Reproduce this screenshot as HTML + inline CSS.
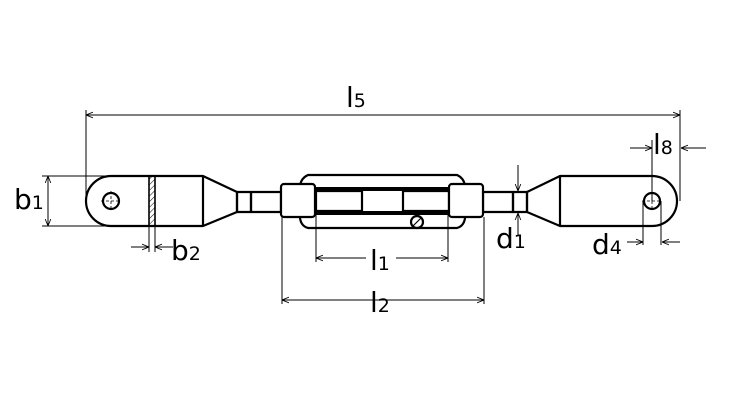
<!DOCTYPE html>
<html><head><style>body{margin:0;background:#fff}svg{display:block}text{font-family:"DejaVu Sans","Liberation Sans",sans-serif;fill:#000}</style></head>
<body>
<svg width="746" height="402" viewBox="0 0 746 402" xmlns="http://www.w3.org/2000/svg">
<defs>
<marker id="a" viewBox="0 0 10 10" refX="10" refY="5" markerWidth="7" markerHeight="7" orient="auto-start-reverse"><path d="M0,1 L10,5 L0,9" fill="none" stroke="#000" stroke-width="1.2"/></marker>
<pattern id="h" width="4" height="4" patternUnits="userSpaceOnUse" patternTransform="rotate(45)"><line x1="0" y1="0" x2="0" y2="4" stroke="#000" stroke-width="1"/></pattern>
</defs>
<g fill="none" stroke="#000" stroke-width="2.2" stroke-linejoin="round">
<!-- left eye -->
<path d="M111,176 L203,176 L237,192 L237,212 L203,226 L111,226 A25,25 0 0 1 111,176 Z" fill="#fff"/>
<rect x="149" y="176" width="6" height="50" fill="url(#h)" stroke-width="1.6"/>
<line x1="203" y1="176" x2="203" y2="226"/>
<circle cx="111" cy="201" r="8"/>
<rect x="237" y="192" width="14" height="20"/>
<rect x="251" y="192" width="30" height="20"/>
<!-- right eye -->
<path d="M652,176 L560,176 L527,192 L527,212 L560,226 L652,226 A25,25 0 0 0 652,176 Z" fill="#fff"/>
<line x1="560" y1="176" x2="560" y2="226"/>
<circle cx="652" cy="201" r="8"/>
<rect x="513" y="192" width="14" height="20"/>
<rect x="483" y="192" width="30" height="20"/>
<!-- frame -->
<path d="M308,175 L457,175 Q464,178 465,186 L465,218 Q464,226 457,228 L308,228 Q301,226 300,218 L300,186 Q301,178 308,175 Z" fill="#fff"/>
<rect x="315" y="189" width="134" height="24" fill="#fff"/>
<line x1="315" y1="189" x2="449" y2="189" stroke-width="4"/>
<line x1="315" y1="213" x2="449" y2="213" stroke-width="4"/>
<rect x="316" y="191" width="46" height="20" fill="#fff"/>
<rect x="403" y="191" width="46" height="20" fill="#fff"/>
<rect x="281" y="184" width="34" height="33" rx="3" fill="#fff"/>
<rect x="449" y="184" width="34" height="33" rx="3" fill="#fff"/>
<circle cx="417" cy="222" r="6" fill="#fff"/>
<line x1="413" y1="226" x2="421" y2="218" stroke-width="1.2"/>
</g>
<g stroke="#000" stroke-width="0.8" stroke-dasharray="3,2" fill="none">
<line x1="101" y1="201" x2="121" y2="201"/><line x1="111" y1="191" x2="111" y2="211"/>
<line x1="642" y1="201" x2="662" y2="201"/><line x1="652" y1="191" x2="652" y2="211"/>
</g>
<g stroke="#000" stroke-width="1" fill="none">
<!-- l5 -->
<line x1="86" y1="110" x2="86" y2="201"/><line x1="680" y1="110" x2="680" y2="201"/>
<line x1="86" y1="115" x2="680" y2="115" marker-start="url(#a)" marker-end="url(#a)"/>
<!-- b1 -->
<line x1="42" y1="176" x2="105" y2="176"/><line x1="42" y1="226" x2="105" y2="226"/>
<line x1="48" y1="176" x2="48" y2="226" marker-start="url(#a)" marker-end="url(#a)"/>
<!-- b2 -->
<line x1="149" y1="226" x2="149" y2="252"/><line x1="155" y1="226" x2="155" y2="252"/>
<line x1="131" y1="247" x2="149" y2="247" marker-end="url(#a)"/>
<line x1="173" y1="247" x2="155" y2="247" marker-end="url(#a)"/>
<!-- l1 -->
<line x1="316" y1="213" x2="316" y2="262"/><line x1="448" y1="213" x2="448" y2="262"/>
<line x1="316" y1="258" x2="366" y2="258" marker-start="url(#a)"/>
<line x1="396" y1="258" x2="448" y2="258" marker-end="url(#a)"/>
<!-- l2 -->
<line x1="282" y1="217" x2="282" y2="304"/><line x1="484" y1="217" x2="484" y2="304"/>
<line x1="282" y1="300" x2="484" y2="300" marker-start="url(#a)" marker-end="url(#a)"/>
<!-- d1 -->
<line x1="518" y1="165" x2="518" y2="191" marker-end="url(#a)"/>
<line x1="518" y1="235" x2="518" y2="213" marker-end="url(#a)"/>
<!-- d4 -->
<line x1="643" y1="201" x2="643" y2="245"/><line x1="661" y1="201" x2="661" y2="245"/>
<line x1="627" y1="242" x2="643" y2="242" marker-end="url(#a)"/>
<line x1="680" y1="242" x2="662" y2="242" marker-end="url(#a)"/>
<!-- l8 -->
<line x1="652" y1="140" x2="652" y2="201"/>
<line x1="630" y1="148" x2="652" y2="148" marker-end="url(#a)"/>
<line x1="706" y1="148" x2="681" y2="148" marker-end="url(#a)"/>
</g>
<g font-size="28">
<text x="346" y="107">l<tspan font-size="19">5</tspan></text>
<text x="14" y="209">b<tspan font-size="19">1</tspan></text>
<text x="171" y="260">b<tspan font-size="19">2</tspan></text>
<text x="370" y="270">l<tspan font-size="19">1</tspan></text>
<text x="370" y="312">l<tspan font-size="19">2</tspan></text>
<text x="496" y="248">d<tspan font-size="19">1</tspan></text>
<text x="592" y="254">d<tspan font-size="19">4</tspan></text>
<text x="653" y="154">l<tspan font-size="19">8</tspan></text>
</g>
</svg>
</body></html>
